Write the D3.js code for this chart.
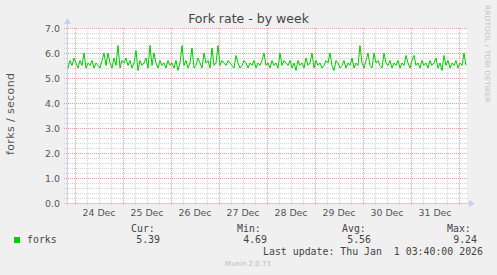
<!DOCTYPE html>
<html><head><meta charset="utf-8">
<script src="https://cdn.jsdelivr.net/npm/d3@7"></script>
<style>html,body{margin:0;padding:0;background:#f0f0f0;}svg{display:block;}</style>
</head><body>
<svg id="c" width="497" height="275"></svg>
<script>
const title = "Fork rate - by week";
const yLabel = "forks / second";
const yTicks = [0,1,2,3,4,5,6,7];
const dayLabels = ["24 Dec","25 Dec","26 Dec","27 Dec","28 Dec","29 Dec","30 Dec","31 Dec"];
const startTime = "2025-12-23T20:00:00";
const endTime = "2026-01-01T04:00:00";
const forks = [
5.4,5.7,5.5,5.8,5.6,5.4,5.7,5.5,6.0,5.4,
5.6,5.5,5.7,5.4,5.6,5.5,5.4,5.7,6.0,5.5,
6.0,5.6,5.4,5.8,5.5,6.3,5.4,5.7,5.6,5.8,
5.5,5.7,5.4,5.6,6.1,5.3,5.7,5.5,5.6,5.8,
5.4,6.3,5.5,6.0,5.6,5.4,5.7,5.5,5.6,5.4,
5.7,5.5,5.6,5.4,5.7,5.3,5.6,6.3,5.5,5.7,
5.4,5.6,6.2,5.4,5.5,5.8,5.6,5.4,6.0,5.6,
5.7,5.4,6.2,5.5,5.6,6.3,5.5,5.7,5.6,5.5,
5.7,5.6,5.5,5.4,5.9,5.6,5.4,5.5,5.7,5.6,
5.4,5.6,5.5,5.7,5.4,5.6,5.5,5.7,6.0,5.5,
5.6,5.4,5.7,5.5,5.6,5.4,6.0,5.5,5.7,5.6,
5.5,5.7,5.4,5.6,5.3,5.7,5.5,5.6,5.4,5.8,
5.5,5.6,6.0,5.4,5.7,5.5,5.6,5.4,5.5,5.7,
5.6,6.0,5.5,5.3,5.7,5.6,5.4,5.5,5.7,5.4,
5.6,5.5,5.8,5.4,5.6,5.5,6.3,5.6,5.4,5.7,
6.0,5.5,5.4,6.0,5.6,5.7,5.5,5.4,6.0,5.6,
5.5,5.7,5.4,5.6,5.5,5.7,5.4,5.6,5.5,5.9,
5.6,5.4,5.7,5.9,5.5,5.6,5.4,5.7,5.5,5.6,
5.4,5.7,5.5,5.6,5.8,5.4,5.6,5.3,5.9,5.5,
5.7,5.4,5.6,5.5,5.7,5.4,5.6,5.5,6.0,5.5];
const legendHeaders = ["Cur:","Min:","Avg:","Max:"];
const legendValues = ["5.39","4.69","5.56","9.24"];
const seriesName = "forks";
const lastUpdate = "Last update: Thu Jan  1 03:40:00 2026";
const footer = "Munin 2.0.73";
const watermark = "RRDTOOL / TOBI OETIKER";

const svg = d3.select("#c");
const L = 67, R = 467, T = 28, B = 203;
const t0 = new Date(startTime), t1 = new Date(endTime);
const x = d3.scaleTime().domain([t0, t1]).range([L, R]);
const y = d3.scaleLinear().domain([0, 7]).range([B, T]);
const stepMs = (t1 - t0) / forks.length;
const data = forks.map((v, i) => ({t: new Date(+t0 + (i + 0.5) * stepMs), v}));

svg.append("rect").attr("width",497).attr("height",275).attr("fill","#f0f0f0");
svg.append("rect").attr("x",L).attr("y",T).attr("width",R-L).attr("height",B-T).attr("fill","#fff");

const g = svg.append("g");
// minor horizontal grid
const minorY = d3.range(0, 7.01, 0.2).filter(v => Math.abs(v - Math.round(v)) > 0.01);
g.selectAll(".mh").data(minorY).join("line")
  .attr("x1", L-3).attr("x2", R).attr("y1", d=>Math.round(y(d))+0.5).attr("y2", d=>Math.round(y(d))+0.5)
  .attr("stroke","#d4d4d4").attr("stroke-width",1).attr("stroke-dasharray","1,1");
// minor vertical grid every 6 hours
const minorX = d3.timeHour.every(6).range(t0, t1).filter(d => d.getHours() !== 0);
g.selectAll(".mv").data(minorX).join("line")
  .attr("x1", d=>Math.round(x(d))+0.5).attr("x2", d=>Math.round(x(d))+0.5).attr("y1", T).attr("y2", B+2)
  .attr("stroke","#d4d4d4").attr("stroke-width",1).attr("stroke-dasharray","1,1");
// major horizontal
g.selectAll(".Mh").data(yTicks).join("line")
  .attr("x1", L-3).attr("x2", R).attr("y1", d=>Math.round(y(d))+0.5).attr("y2", d=>Math.round(y(d))+0.5)
  .attr("stroke","#eba0a0").attr("stroke-width",1).attr("stroke-dasharray","1,1");
// major vertical (days)
const days = d3.timeDay.range(d3.timeDay.ceil(t0), t1);
g.selectAll(".Mv").data(days).join("line")
  .attr("x1", d=>Math.round(x(d))+0.5).attr("x2", d=>Math.round(x(d))+0.5).attr("y1", T).attr("y2", B+3)
  .attr("stroke","#eba0a0").attr("stroke-width",1).attr("stroke-dasharray","1,1");

// axes
svg.append("line").attr("x1",L+0.5).attr("x2",L+0.5).attr("y1",B+3).attr("y2",T-5).attr("stroke","#c8d0f0");
svg.append("path").attr("d",`M${L-3},${T-4} L${L+4},${T-4} L${L+0.5},${T-10} Z`).attr("fill","#c8d0f0");
svg.append("line").attr("x1",L-3).attr("x2",R+3).attr("y1",B+0.5).attr("y2",B+0.5).attr("stroke","#c8d0f0");
svg.append("path").attr("d",`M${R+2},${B-3} L${R+2},${B+4} L${R+8},${B+0.5} Z`).attr("fill","#c8d0f0");

// y tick labels
svg.selectAll(".yl").data(yTicks).join("text")
  .attr("x", 60).attr("y", d=>y(d)+3.5).attr("text-anchor","end")
  .attr("font-family","DejaVu Sans").attr("font-size","9.4px").attr("fill","#555")
  .text(d=>d3.format(".1f")(d));
// x day labels at noon
const noons = days.slice(0, dayLabels.length).map(d => d3.timeHour.offset(d, 12));
svg.selectAll(".xl").data(noons).join("text")
  .attr("x", d=>x(d)).attr("y", 216).attr("text-anchor","middle")
  .attr("font-family","DejaVu Sans").attr("font-size","9.4px").attr("fill","#555")
  .text((d,i)=>dayLabels[i]);

// line
const line = d3.line().x(d=>x(d.t)).y(d=>y(d.v));
svg.append("path").datum(data).attr("d", line).attr("fill","none").attr("stroke","#00cc00").attr("stroke-width",1);

// title
svg.append("text").attr("x",248.5).attr("y",23).attr("text-anchor","middle")
  .attr("font-family","DejaVu Sans").attr("font-size","12.5px").attr("fill","#444").text(title);
// y label
svg.append("text").attr("transform","translate(14,114) rotate(-90)").attr("text-anchor","middle")
  .attr("font-family","DejaVu Sans").attr("font-size","11px").attr("fill","#555")
  .attr("textLength",82).attr("lengthAdjust","spacing").text(yLabel);
// watermark
svg.append("text").attr("transform","translate(485,54) rotate(90)").attr("text-anchor","middle")
  .attr("font-family","DejaVu Sans").attr("font-size","7px").attr("fill","#c4c4c4")
  .attr("textLength",98).attr("lengthAdjust","spacingAndGlyphs").text(watermark);

// legend
const mono = "DejaVu Sans Mono";
svg.append("rect").attr("x",14).attr("y",237).attr("width",6).attr("height",6).attr("fill","#00cc00");
svg.append("text").attr("x",27).attr("y",243).attr("font-family",mono).attr("font-size","9.9px").attr("fill","#444").text(seriesName);
const hdrX = [131,237,342,447];
svg.selectAll(".lh").data(legendHeaders).join("text")
  .attr("x",(d,i)=>hdrX[i]).attr("y",232).attr("font-family",mono).attr("font-size","9.9px").attr("fill","#444").text(d=>d);
const valEnd = [160,267,371,477];
svg.selectAll(".lv").data(legendValues).join("text")
  .attr("x",(d,i)=>valEnd[i]).attr("y",243).attr("text-anchor","end").attr("font-family",mono).attr("font-size","9.9px").attr("fill","#444").text(d=>d);
svg.append("text").attr("x",483).attr("y",255).attr("text-anchor","end").attr("font-family",mono).attr("font-size","9.9px").attr("fill","#444")
  .attr("xml:space","preserve").style("white-space","pre").text(lastUpdate);
svg.append("text").attr("x",248).attr("y",266).attr("text-anchor","middle").attr("font-family","DejaVu Sans").attr("font-size","7px").attr("fill","#bbb").text(footer);
</script>
</body></html>
